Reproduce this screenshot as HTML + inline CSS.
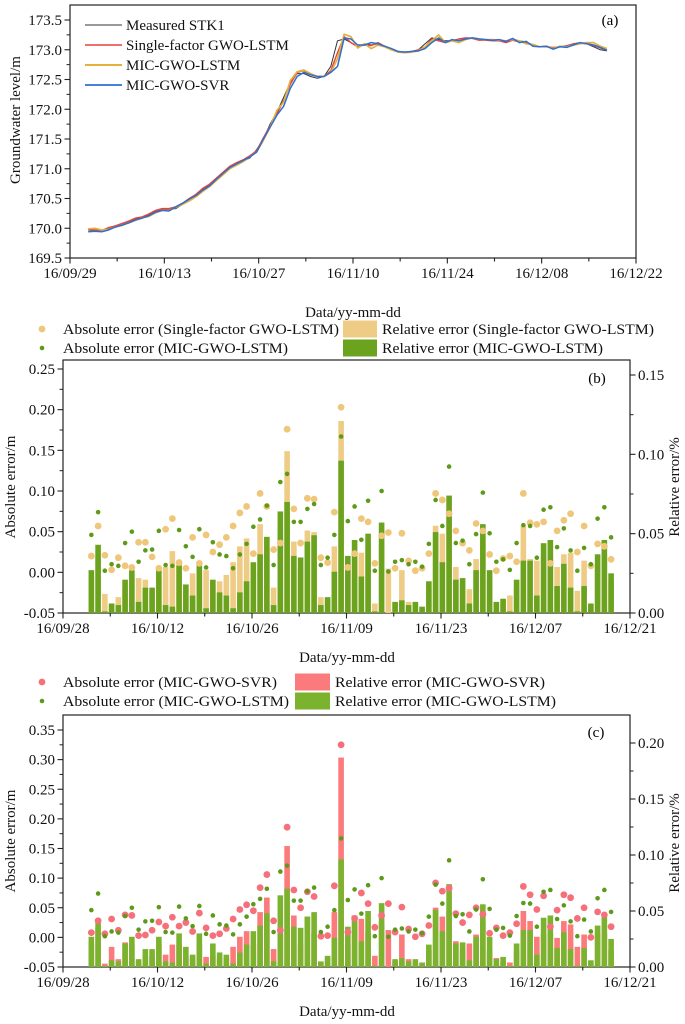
<!DOCTYPE html>
<html><head><meta charset="utf-8"><style>
html,body{margin:0;padding:0;background:#fff;}
svg{display:block;font-family:"Liberation Serif","Times New Roman",serif;}
</style></head><body>
<svg id="fig" width="685" height="1024" viewBox="0 0 685 1024" xmlns="http://www.w3.org/2000/svg"></svg>
<script>
// ---------- Panel (a) data: Oct 2 .. Dec 18 daily ----------
const measured = [169.97,169.96,169.97,170.00,170.03,170.06,170.10,170.15,170.18,170.22,170.28,170.31,170.32,170.33,170.40,170.48,170.55,170.65,170.72,170.82,170.92,171.02,171.08,171.13,171.18,171.32,171.50,171.75,171.95,172.20,
172.45,172.60,172.60,172.55,172.52,172.55,172.72,173.15,173.18,173.12,173.05,173.10,173.08,173.10,173.05,173.00,172.97,172.96,172.97,173.00,173.10,173.20,173.17,173.15,173.15,173.18,173.20,173.20,173.18,173.17,
173.16,173.15,173.14,173.18,173.15,173.13,173.08,173.05,173.05,173.03,173.05,173.07,173.10,173.12,173.10,173.05,173.00,172.98];
const singleLSTM = [169.98,169.97,169.96,170.01,170.04,170.08,170.12,170.17,170.19,170.24,170.30,170.33,170.33,170.36,170.42,170.50,170.57,170.67,170.74,170.84,170.94,171.04,171.10,171.15,171.22,171.30,171.52,171.72,171.92,172.15,
172.42,172.62,172.65,172.58,172.55,172.55,172.65,172.95,173.22,173.12,173.05,173.08,173.07,173.12,173.06,173.01,172.97,172.96,172.97,173.00,173.05,173.18,173.15,173.12,173.15,173.18,173.20,173.19,173.16,173.16,
173.15,173.15,173.12,173.16,173.13,173.12,173.07,173.05,173.05,173.04,173.05,173.06,173.10,173.11,173.10,173.07,173.03,172.99];
const micLSTM = [169.99,170.00,169.97,169.98,170.02,170.05,170.09,170.13,170.17,170.20,170.26,170.30,170.30,170.35,170.40,170.46,170.53,170.62,170.70,170.80,170.90,171.00,171.06,171.12,171.20,171.28,171.48,171.70,171.98,172.12,
172.48,172.63,172.66,172.60,172.55,172.55,172.62,172.85,173.26,173.22,173.03,173.10,173.02,173.08,173.05,173.00,172.96,172.95,172.96,172.98,173.05,173.15,173.25,173.12,173.15,173.12,173.17,173.20,173.18,173.17,
173.17,173.16,173.15,173.17,173.15,173.10,173.09,173.05,173.06,173.02,173.06,173.05,173.08,173.10,173.12,173.12,173.06,173.02];
const micSVR = [169.94,169.95,169.94,169.97,170.02,170.05,170.09,170.14,170.17,170.21,170.27,170.30,170.29,170.36,170.42,170.49,170.55,170.64,170.71,170.82,170.92,171.02,171.08,171.14,171.20,171.28,171.50,171.70,171.90,172.05,
172.35,172.55,172.62,172.58,172.55,172.55,172.62,172.72,173.20,173.18,173.08,173.08,173.12,173.10,173.06,173.02,172.97,172.96,172.97,172.98,173.02,173.12,173.20,173.12,173.17,173.15,173.18,173.20,173.18,173.17,
173.16,173.17,173.14,173.19,173.12,173.14,173.06,173.05,173.06,173.01,173.05,173.04,173.08,173.12,173.10,173.08,173.04,172.99];
// ---------- Panels (b),(c) data ----------
const relMIC = [.027,.043,.001,.006,.005,.021,.027,.007,.016,.016,.027,.005,.004,.030,.018,.011,.030,.003,.021,.013,.011,.003,.013,.020,.032,.037,.048,.005,.064,.070,.036,.035,.045,.049,.005,.010,.026,.096,.036,.046,.023,.050,.001,.057,.000,.007,.008,.005,.007,.004,.020,.051,.032,.074,.021,.022,.006,.027,.056,.027,.007,.009,.001,.021,.033,.033,.011,.044,.046,.017,.031,.016,.001,.017,.006,.037,.046,.025];
const relSingle = [.022,.035,.012,.005,.010,.017,.022,.022,.021,.013,.022,.029,.039,.033,.015,.025,.024,.027,.017,.020,.024,.032,.042,.047,.026,.056,.040,.016,.052,.102,.045,.028,.052,.051,.010,.008,.042,.121,.030,.037,.038,.040,.006,.046,.028,.006,.027,.007,.006,.003,.016,.055,.050,.060,.029,.018,.015,.034,.045,.022,.006,.007,.011,.017,.055,.034,.033,.036,.037,.029,.037,.038,.014,.033,.005,.030,.037,.020];
const absSingle = [.020,.057,.021,.003,.018,.008,.006,.037,.037,.019,.005,.053,.066,.012,.005,.043,.011,.046,.025,.034,.043,.057,.073,.081,.023,.097,.081,.028,.036,.176,.078,.036,.091,.090,.018,.012,.074,.203,.006,.023,.066,.062,.011,.045,.049,.005,.048,.014,.002,.005,.023,.097,.089,.072,.051,.036,.027,.060,.051,.022,.002,.017,.020,.013,.097,.061,.059,.062,.011,.051,.064,.072,.025,.057,.008,.035,.032,.016];
const absMIC = [.046,.074,.002,.010,.008,.036,.050,.013,.027,.028,.051,.009,.008,.052,.032,.019,.053,.006,.037,.022,.020,.005,.022,.035,.056,.065,.082,.009,.111,.121,.062,.062,.078,.084,.009,.018,.046,.167,.063,.081,.040,.088,.002,.100,.001,.013,.015,.010,.013,.007,.035,.089,.057,.130,.036,.039,.010,.047,.098,.048,.013,.016,.003,.036,.058,.057,.018,.077,.080,.031,.054,.027,.002,.030,.010,.066,.080,.043];
const relSVR = [.020,.035,.003,.018,.007,.022,.020,.005,.010,.010,.020,.011,.020,.020,.010,.008,.020,.009,.010,.008,.008,.018,.027,.032,.020,.049,.062,.016,.030,.108,.046,.020,.045,.030,.004,.008,.049,.187,.020,.046,.043,.030,.010,.040,.033,.006,.029,.007,.003,.004,.015,.053,.045,.050,.023,.015,.021,.029,.040,.015,.008,.004,.004,.015,.050,.041,.027,.030,.030,.026,.041,.038,.018,.029,.003,.030,.030,.015];
const absSVR = [.008,.028,.006,.031,.012,.038,.037,.003,.004,.012,.026,.019,.034,.019,.025,.010,.041,.016,.003,.006,.015,.031,.047,.055,.045,.084,.106,.028,.012,.186,.080,.050,.077,.069,.002,.003,.087,.325,.009,.032,.075,.057,.017,.037,.057,.009,.051,.014,.001,.006,.020,.092,.078,.083,.040,.025,.038,.050,.039,.007,.016,.003,.008,.023,.086,.072,.047,.070,.018,.046,.072,.067,.032,.050,.000,.043,.038,.018];
const xTicksA = ["16/09/29","16/10/13","16/10/27","16/11/10","16/11/24","16/12/08","16/12/22"];
const xTicksBC = ["16/09/28","16/10/12","16/10/26","16/11/09","16/11/23","16/12/07","16/12/21"];
const yTicksA = [169.5,170.0,170.5,171.0,171.5,172.0,172.5,173.0,173.5];
const yTicksB = [-0.05,0.00,0.05,0.10,0.15,0.20,0.25];
const yTicksBR = [0.00,0.05,0.10,0.15];
const yTicksC = [-0.05,0.00,0.05,0.10,0.15,0.20,0.25,0.30,0.35];
const yTicksCR = [0.00,0.05,0.10,0.15,0.20];

const NS="http://www.w3.org/2000/svg";
const svg=document.getElementById('fig');
function mk(tag,attrs,parent,text){const e=document.createElementNS(NS,tag);for(const k in attrs)e.setAttribute(k,attrs[k]);if(text!==undefined)e.textContent=text;(parent||svg).appendChild(e);return e;}
function lin(d0,d1,r0,r1){return v=>r0+(v-d0)*(r1-r0)/(d1-d0);}

function frame(x0,x1,y0,y1,name){
  const r=mk('rect',{x:x0,y:y0,width:x1-x0,height:y1-y0,fill:'none',stroke:'#222','stroke-width':1.2});
  
  
}
function xAxis(x0,x1,yb,labels,name){
  const n=labels.length-1;
  for(let i=0;i<=2*n;i++){
    const x=x0+(x1-x0)*i/(2*n);
    const t=mk('line',{x1:x,x2:x,y1:yb,y2:yb+(i%2?3.5:5.5),stroke:'#222','stroke-width':1.1});
    
    
  }
  labels.forEach((l,i)=>{
    const t=mk('text',{x:x0+(x1-x0)*i/n,y:yb+20,'text-anchor':'middle','font-size':15,fill:'#111'},svg,l);
    
    
  });
}
function yAxis(xa,ys,ticks,side,name,dec,yTop){
  const dir=side==='left'?-1:1;
  ticks.forEach((v,i)=>{
    const y=ys(v);
    const t=mk('line',{x1:xa,x2:xa+dir*5.5,y1:y,y2:y,stroke:'#222','stroke-width':1.1});
    
    
    const ym=ys(v+(ticks[1]-ticks[0])/2);
    if(ym>=yTop+1){
      const m=mk('line',{x1:xa,x2:xa+dir*3.5,y1:ym,y2:ym,stroke:'#222','stroke-width':1});
      
      
    }
    const l=mk('text',{x:xa+dir*8,y:y+5,'text-anchor':side==='left'?'end':'start','font-size':15,fill:'#111'},svg,v.toFixed(dec));
    
    
  });
}
function title(x,y,txt,rot,name){
  const t=mk('text',{x:x,y:y,'text-anchor':'middle','font-size':15,fill:'#111',transform:rot?`rotate(-90 ${x} ${y})`:''},svg,txt);
  
  
}

// ================= Panel (a) =================
const axA={x0:70,x1:636,y0:5,y1:258};
const xA=lin(0,84,axA.x0,axA.x1);           // days since 16/09/29
const yA=lin(169.5,173.5,258,20);
frame(axA.x0,axA.x1,axA.y0,axA.y1,'panel-a-frame');
xAxis(axA.x0,axA.x1,axA.y1,xTicksA,'panel-a-x-axis');
yAxis(axA.x0,yA,yTicksA,'left','panel-a-y-axis',1,axA.y0);
title(353,317,'Data/yy-mm-dd',false,'panel-a-x-axis-title');
title(20,120,'Groundwater level/m',true,'panel-a-y-axis-title');
const tA=mk('text',{x:610,y:25,'text-anchor':'middle','font-size':15},svg,'(a)');


const seriesA=[[measured,'#333',1,'measured-stk1-line'],[singleLSTM,'#e8413c',1.4,'single-factor-gwo-lstm-line'],[micLSTM,'#e3b13c',1.7,'mic-gwo-lstm-line'],[micSVR,'#2d6fd2',1.5,'mic-gwo-svr-line']];
seriesA.forEach(s=>{
  const pts=s[0].map((v,i)=>xA(2.7+i).toFixed(1)+','+yA(v).toFixed(1)).join(' ');
  const p=mk('polyline',{points:pts,fill:'none',stroke:s[1],'stroke-width':s[2],'stroke-linejoin':'round'});
  
  
});
const legA=[['Measured STK1','#333',1],['Single-factor GWO-LSTM','#e8413c',1.5],['MIC-GWO-LSTM','#e3b13c',2],['MIC-GWO-SVR','#2d6fd2',1.7]];
legA.forEach((l,i)=>{
  const y=25+20*i;
  const ln=mk('line',{x1:85,x2:122,y1:y,y2:y,stroke:l[1],'stroke-width':l[2]});
  
  
  const t=mk('text',{x:126,y:y+5,'font-size':15,fill:'#111'},svg,l[0]);
  
  
});

// ================= Panels (b) & (c) =================
function errorPanel(cfg){
  const xs=lin(0,84,63,630);  // days since 16/09/28
  const yl=lin(cfg.lmin,cfg.lmax,cfg.yb,cfg.ylTop);
  const yr=lin(0,cfg.rmax,cfg.yb,cfg.yrTop);
  frame(63,630,cfg.yt,cfg.yb,cfg.id+'-frame');
  xAxis(63,630,cfg.yb,xTicksBC,cfg.id+'-x-axis');
  yAxis(63,yl,cfg.lt,'left',cfg.id+'-left-axis',2,cfg.yt);
  yAxis(630,yr,cfg.rt,'right',cfg.id+'-right-axis',2,cfg.yt);
  const bw=5.6;
  cfg.back.forEach((v,i)=>{
    const x=xs(4.2+i);
    const r=mk('rect',{x:x-bw/2,y:yr(v),width:bw,height:cfg.yb-yr(v),fill:cfg.backColor});
    
    
  });
  cfg.front.forEach((v,i)=>{
    const x=xs(4.2+i);
    const r=mk('rect',{x:x-bw/2,y:yr(v),width:bw,height:cfg.yb-yr(v),fill:cfg.frontColor});
    
    
  });
  cfg.backDots.forEach((v,i)=>{
    const c=mk('circle',{cx:xs(4.2+i),cy:yl(v),r:3.4,fill:cfg.backDotColor});
    
    
  });
  cfg.frontDots.forEach((v,i)=>{
    const c=mk('circle',{cx:xs(4.2+i),cy:yl(v),r:2.3,fill:cfg.frontDotColor});
    
    
  });
}
errorPanel({id:'panel-b',yt:360,yb:613,lmin:-0.05,lmax:0.25,ylTop:369,rmax:0.15,yrTop:375,lt:yTicksB,rt:yTicksBR,
  back:relSingle,front:relMIC,backDots:absSingle,frontDots:absMIC,backName:'single-factor',
  backColor:'#efcc85',frontColor:'#6ba31f',backDotColor:'#efc77a',frontDotColor:'#5e9a1a'});
errorPanel({id:'panel-c',yt:715,yb:967,lmin:-0.05,lmax:0.35,ylTop:730,rmax:0.20,yrTop:743,lt:yTicksC,rt:yTicksCR,
  back:relSVR,front:relMIC,backDots:absSVR,frontDots:absMIC,backName:'mic-gwo-svr',
  backColor:'#fb7a7c',frontColor:'#7cb32e',backDotColor:'#f5707a',frontDotColor:'#5e9a1a'});

title(347,662,'Data/yy-mm-dd',false,'panel-b-x-axis-title');
title(15,487,'Absolute error/m',true,'panel-b-left-axis-title');
title(679,487,'Relative error/%',true,'panel-b-right-axis-title');
title(347,1016,'Data/yy-mm-dd',false,'panel-c-x-axis-title');
title(15,841,'Absolute error/m',true,'panel-c-left-axis-title');
title(679,843,'Relative error/%',true,'panel-c-right-axis-title');
const tB=mk('text',{x:597,y:383,'text-anchor':'middle','font-size':15},svg,'(b)');


const tC=mk('text',{x:596,y:737,'text-anchor':'middle','font-size':15},svg,'(c)');



function legendRow(dotX,dotY,dotR,dotColor,text,textEnd,swX,swW,swColor,swText,swEnd,name){
  const c=mk('circle',{cx:dotX,cy:dotY,r:dotR,fill:dotColor});
  
  
  const t=mk('text',{x:63,y:dotY+5,'font-size':15,fill:'#111',textLength:textEnd-63,lengthAdjust:'spacingAndGlyphs'},svg,text);
  
  
  const r=mk('rect',{x:swX,y:dotY-8.5,width:swW,height:17,fill:swColor});
  
  
  const t2=mk('text',{x:swX+swW+5,y:dotY+5,'font-size':15,fill:'#111',textLength:swEnd-(swX+swW+5),lengthAdjust:'spacingAndGlyphs'},svg,swText);
  
  
}
legendRow(42,329,3.4,'#efc77a','Absolute error (Single-factor GWO-LSTM)',339,343,34,'#efcc85','Relative error (Single-factor GWO-LSTM)',654,'legend-b-single');
legendRow(42,348,2.3,'#5e9a1a','Absolute error (MIC-GWO-LSTM)',288,343,34,'#6ba31f','Relative error (MIC-GWO-LSTM)',603,'legend-b-mic');
legendRow(42,682,3.4,'#f5707a','Absolute error (MIC-GWO-SVR)',277,295,35,'#fb7a7c','Relative error (MIC-GWO-SVR)',545,'legend-c-svr');
legendRow(42,701,2.3,'#5e9a1a','Absolute error (MIC-GWO-LSTM)',289,295,35,'#7cb32e','Relative error (MIC-GWO-LSTM)',556,'legend-c-mic');
</script>
</body></html>
